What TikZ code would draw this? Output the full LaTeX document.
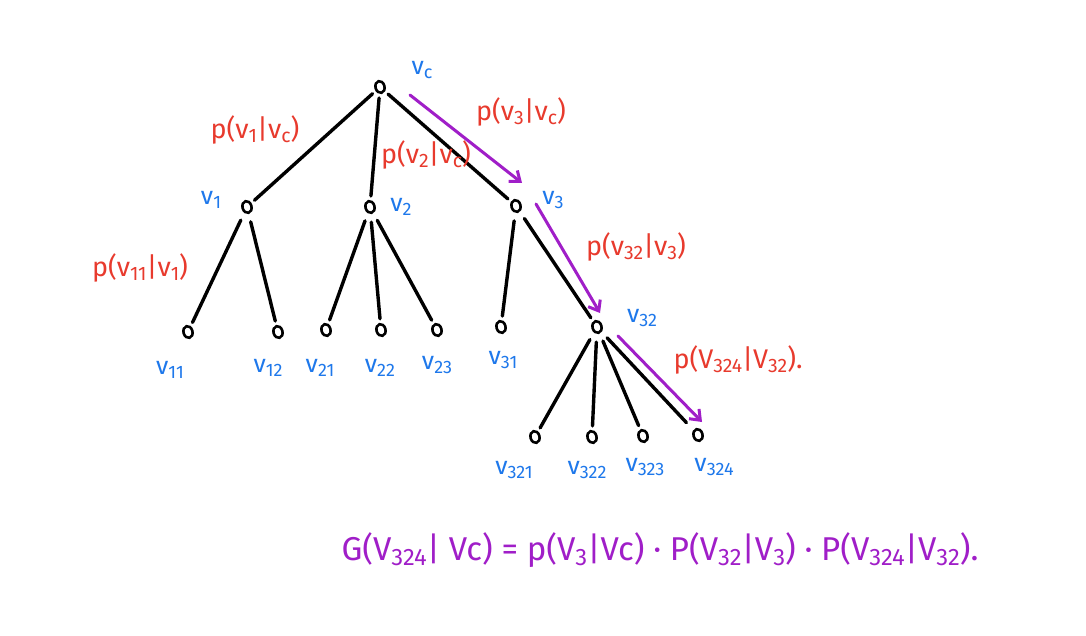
\documentclass[tikz,border=0pt]{standalone}
\usepackage{fontspec}
\setmainfont{Fira Sans}
\usetikzlibrary{arrows.meta,shapes.geometric}
\definecolor{myred}{RGB}{232,58,45}
\definecolor{myblue}{RGB}{30,120,235}
\definecolor{mypurple}{RGB}{160,30,200}
\newcommand\lo[1]{\raisebox{-0.3ex}{\scalebox{0.72}{#1}}}
\begin{document}
\begin{tikzpicture}[x=1pt,y=-1pt,
  vert/.style={draw=black, line width=2.6pt, ellipse, rotate=15, minimum width=9pt, minimum height=12pt, inner sep=0pt},
  edg/.style={line width=3.4pt, line cap=round, shorten >=4pt, shorten <=4pt},
  vlab/.style={text=myblue, font=\fontsize{25}{27}\selectfont},
  plab/.style={text=myred, font=\fontsize{27}{29}\selectfont},
  flab/.style={text=mypurple, font=\fontsize{33}{36}\selectfont},
  arr/.style={draw=mypurple, line width=3pt, line cap=round, -{Straight Barb[length=9pt, width=14pt]}}]
\fill[white] (0,0) rectangle (1086,636);
\useasboundingbox (0,0) rectangle (1086,636);
% vertices
\node[vert] (vc) at (380,87) {};
\node[vert] (v1) at (247,207) {};
\node[vert] (v2) at (370,207) {};
\node[vert] (v3) at (516,206) {};
\node[vert] (v11) at (188,332) {};
\node[vert] (v12) at (278,332) {};
\node[vert] (v21) at (326,330) {};
\node[vert] (v22) at (381,330) {};
\node[vert] (v23) at (437,330) {};
\node[vert] (v31) at (501,327) {};
\node[vert] (v32) at (597,327) {};
\node[vert] (v321) at (535,437) {};
\node[vert] (v322) at (592,437) {};
\node[vert] (v323) at (643,436) {};
\node[vert] (v324) at (698,435) {};
% edges
\draw[edg] (vc) -- (v1);
\draw[edg] (vc) -- (v2);
\draw[edg] (vc) -- (v3);
\draw[edg,shorten <=8pt] (v1) -- (v11);
\draw[edg,shorten <=8pt] (v1) -- (v12);
\draw[edg,shorten <=8pt] (v2) -- (v21);
\draw[edg,shorten <=8pt] (v2) -- (v22);
\draw[edg,shorten <=8pt] (v2) -- (v23);
\draw[edg,shorten <=8pt] (v3) -- (v31);
\draw[edg,shorten <=8pt] (v3) -- (v32);
\draw[edg,shorten <=8pt] (v32) -- (v321);
\draw[edg,shorten <=8pt] (v32) -- (v322);
\draw[edg,shorten <=8pt] (v32) -- (v323);
\draw[edg,shorten <=8pt,shorten >=10pt] (v32) -- (v324);
% vertex labels
\node[vlab] (lvc) at (422,70) {v\lo{c}};
\node[vlab] (lv1) at (211,200) {v\lo{1}};
\node[vlab] (lv2) at (401,207) {v\lo{2}};
\node[vlab] (lv3) at (553,200) {v\lo{3}};
\node[vlab] (lv11) at (170,370) {v\lo{11}};
\node[vlab] (lv12) at (268,368) {v\lo{12}};
\node[vlab] (lv21) at (320,368) {v\lo{21}};
\node[vlab] (lv22) at (380,368) {v\lo{22}};
\node[vlab] (lv23) at (437,365) {v\lo{23}};
\node[vlab] (lv31) at (503,360) {v\lo{31}};
\node[vlab] (lv32) at (642,318) {v\lo{32}};
\node[vlab] (lv321) at (514,470) {v\lo{321}};
\node[vlab] (lv322) at (587,470) {v\lo{322}};
\node[vlab] (lv323) at (645,467) {v\lo{323}};
\node[vlab] (lv324) at (714,467) {v\lo{324}};
% probability labels
\node[plab] (p1) at (255,130) {p(v\lo{1}|v\lo{c})};
\node[plab] (p2) at (426,155) {p(v\lo{2}|v\lo{c})};
\node[plab] (p3) at (521,112) {p(v\lo{3}|v\lo{c})};
\node[plab] (p11) at (140,268) {p(v\lo{11}|v\lo{1})};
\node[plab] (p32) at (636,247) {p(v\lo{32}|v\lo{3})};
\node[plab] (p324) at (738,360) {p(V\lo{324}|V\lo{32}).};
% purple path arrows
\coordinate (a1s) at (410,95);
\coordinate (a1e) at (522,183);
\coordinate (a2s) at (536,204);
\coordinate (a2e) at (600,313);
\coordinate (a3s) at (618,336);
\coordinate (a3e) at (702,422);
\draw[arr] (a1s) -- (a1e);
\draw[arr] (a2s) -- (a2e);
\draw[arr] (a3s) -- (a3e);
% formula
\node[flab] (formula) at (660,550) {G(V\lo{324}| Vc) = p(V\lo{3}|Vc) · P(V\lo{32}|V\lo{3}) · P(V\lo{324}|V\lo{32}).};
\end{tikzpicture}
\end{document}
